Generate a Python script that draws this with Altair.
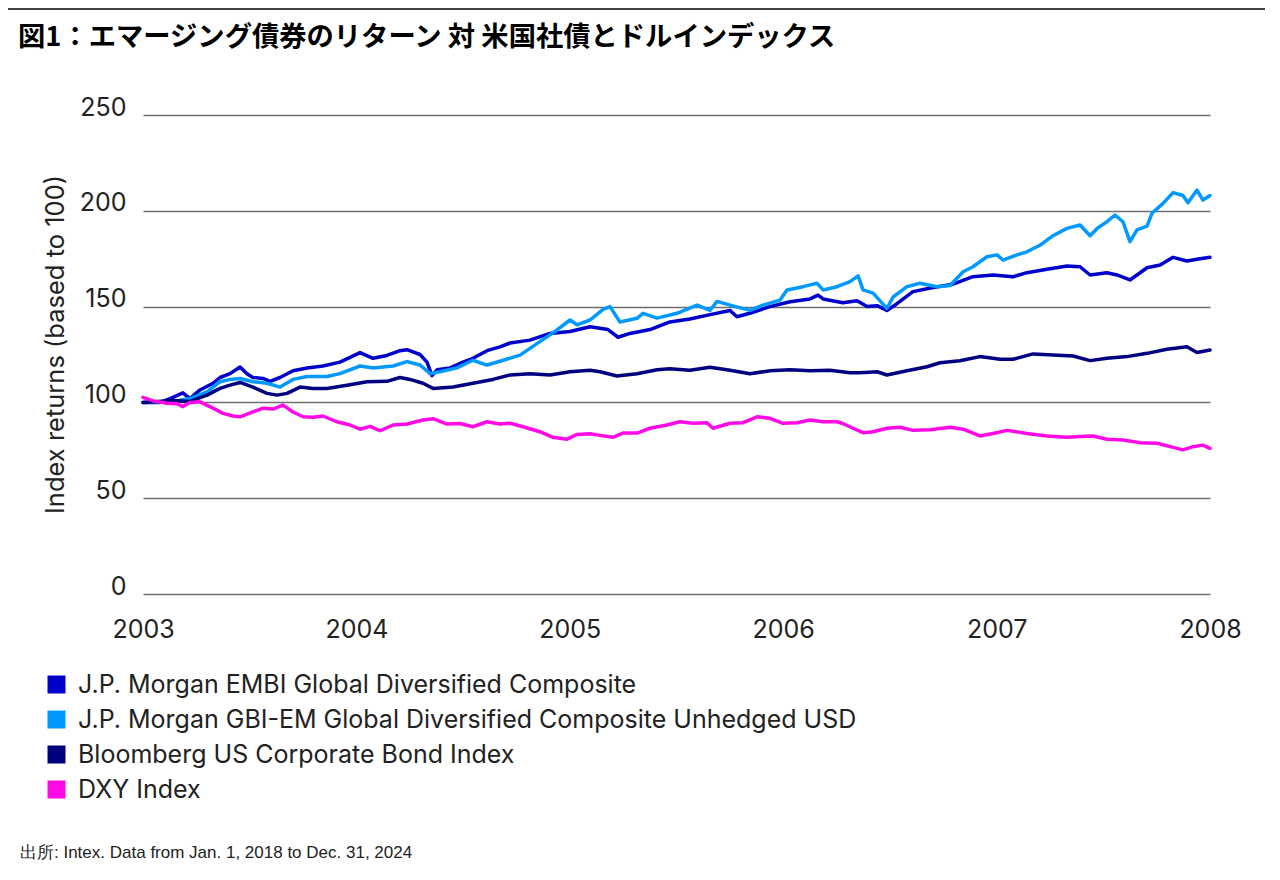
import altair as alt
import pandas as pd

title_text = "図1：エマージング債券のリターン 対 米国社債とドルインデックス"
source_text = "出所: Intex. Data from Jan. 1, 2018 to Dec. 31, 2024"
y_title = "Index returns (based to 100)"

series_names = [
    "J.P. Morgan EMBI Global Diversified Composite",
    "J.P. Morgan GBI-EM Global Diversified Composite Unhedged USD",
    "Bloomberg US Corporate Bond Index",
    "DXY Index",
]
series_colors = ["#0000CC", "#0099FF", "#000080", "#FF0AE6"]

x_ticks = [2003, 2004, 2005, 2006, 2007, 2008]
y_ticks = [0, 50, 100, 150, 200, 250]

# time given as years elapsed since start of 2003
embi_t = [0.000, 0.080, 0.127, 0.187, 0.220, 0.267, 0.328, 0.361, 0.408, 0.455,
          0.487, 0.515, 0.562, 0.595, 0.642, 0.703, 0.769, 0.843, 0.923, 1.017,
          1.078, 1.143, 1.204, 1.237, 1.298, 1.331, 1.354, 1.378, 1.439, 1.500,
          1.546, 1.612, 1.673, 1.720, 1.813, 1.907, 2.001, 2.095, 2.179, 2.226,
          2.282, 2.376, 2.469, 2.563, 2.657, 2.751, 2.783, 2.844, 2.938, 3.032,
          3.126, 3.163, 3.187, 3.280, 3.346, 3.393, 3.440, 3.486, 3.533, 3.608,
          3.702, 3.796, 3.889, 3.983, 4.077, 4.142, 4.236, 4.330, 4.391, 4.438,
          4.517, 4.564, 4.625, 4.705, 4.766, 4.827, 4.892, 4.953, 5.000]
embi_v = [100, 100, 102, 105, 102, 106.5, 110, 113, 115, 118.5,
          115, 113, 112.5, 111, 113, 116.5, 118, 119, 121, 126,
          123, 124.5, 127, 127.5, 125, 121, 114, 117, 118, 121,
          123, 127, 129, 131, 132.5, 136, 137, 139.5, 138, 134,
          136, 138, 142, 143.5, 145.8, 148, 144.7, 146.5, 150, 152.5,
          154, 156, 154, 152, 153, 150, 150.5, 148, 151.5, 157.8,
          160, 161.7, 165.6, 166.5, 165.6, 167.7, 169.5, 171.2, 170.8, 166.5,
          167.7, 166.5, 163.9, 170.3, 171.7, 175.7, 173.8, 175, 175.7]

gbi_t = [0.000, 0.141, 0.220, 0.300, 0.361, 0.408, 0.455, 0.515, 0.581, 0.642,
         0.703, 0.769, 0.862, 0.923, 1.017, 1.078, 1.172, 1.237, 1.298, 1.345,
         1.392, 1.471, 1.546, 1.612, 1.673, 1.767, 1.860, 1.940, 2.001, 2.034,
         2.095, 2.156, 2.188, 2.235, 2.315, 2.343, 2.409, 2.502, 2.596, 2.657,
         2.690, 2.751, 2.844, 2.905, 2.985, 3.018, 3.093, 3.158, 3.187, 3.252,
         3.313, 3.351, 3.374, 3.421, 3.486, 3.515, 3.580, 3.641, 3.721, 3.782,
         3.843, 3.889, 3.955, 4.002, 4.030, 4.096, 4.142, 4.203, 4.264, 4.330,
         4.391, 4.438, 4.471, 4.517, 4.555, 4.592, 4.625, 4.658, 4.705, 4.728,
         4.780, 4.827, 4.873, 4.897, 4.939, 4.967, 5.000]
gbi_v = [100, 100.5, 102, 105.5, 110.8, 112, 112.5, 110.8, 110, 108,
         112, 113.5, 113.5, 115, 119, 118, 119, 121.3, 119.5, 115,
         116, 118, 122, 119.5, 121.5, 124.7, 131.7, 137.8, 143, 140.5,
         143, 148.6, 150, 142, 143.9, 146.5, 144, 146.5, 150.8, 148,
         152.7, 150.8, 148, 150.8, 153.4, 158.7, 160.4, 162.2, 158.7, 160.4,
         163, 166, 158.7, 157, 149.1, 155, 160.4, 162.2, 160.4, 161,
         168.2, 170.8, 176, 177, 174.3, 177, 178.6, 182, 187, 190.8,
         192.6, 187, 190.8, 194.3, 197.8, 194.3, 183.9, 190, 192, 198.7,
         203.9, 209.5, 208, 204.2, 210.8, 205.6, 208]

corp_t = [0.000, 0.141, 0.220, 0.300, 0.361, 0.408, 0.455, 0.515, 0.581, 0.628,
          0.675, 0.736, 0.797, 0.862, 0.956, 1.050, 1.143, 1.204, 1.251, 1.312,
          1.359, 1.453, 1.546, 1.640, 1.720, 1.813, 1.907, 2.001, 2.095, 2.142,
          2.221, 2.315, 2.409, 2.469, 2.563, 2.657, 2.751, 2.844, 2.938, 3.032,
          3.126, 3.219, 3.313, 3.360, 3.440, 3.486, 3.580, 3.674, 3.735, 3.828,
          3.922, 4.016, 4.077, 4.171, 4.264, 4.358, 4.438, 4.517, 4.611, 4.705,
          4.798, 4.892, 4.939, 5.000]
corp_v = [100, 101, 100.5, 103.8, 107.3, 109, 110.4, 108, 104.7, 103.8,
          104.7, 108, 107.3, 107.3, 109, 110.8, 111, 113, 112, 110,
          107.3, 108, 110, 112, 114.3, 115, 114.3, 116, 116.8, 116,
          113.8, 115, 117, 117.5, 116.8, 118.3, 116.8, 115, 116.5, 117,
          116.5, 116.8, 115.5, 115.5, 116, 114.3, 116.5, 118.6, 120.7, 121.7,
          123.9, 122.5, 122.5, 125.3, 124.7, 124.2, 121.8, 123, 123.9, 125.6,
          127.7, 129, 126, 127.3]

dxy_t = [0.000, 0.047, 0.112, 0.159, 0.187, 0.220, 0.267, 0.328, 0.375, 0.422,
         0.455, 0.515, 0.562, 0.609, 0.656, 0.703, 0.750, 0.797, 0.843, 0.909,
         0.970, 1.017, 1.064, 1.111, 1.172, 1.237, 1.312, 1.359, 1.425, 1.485,
         1.546, 1.612, 1.673, 1.720, 1.781, 1.860, 1.921, 1.987, 2.034, 2.095,
         2.142, 2.202, 2.249, 2.315, 2.376, 2.455, 2.516, 2.577, 2.643, 2.671,
         2.751, 2.812, 2.877, 2.938, 2.999, 3.065, 3.126, 3.187, 3.252, 3.280,
         3.327, 3.374, 3.421, 3.486, 3.547, 3.608, 3.688, 3.782, 3.843, 3.922,
         3.983, 4.049, 4.142, 4.236, 4.330, 4.391, 4.452, 4.517, 4.592, 4.672,
         4.752, 4.813, 4.873, 4.920, 4.967, 5.000]
dxy_v = [102.6, 100.8, 99.6, 99.3, 97.8, 100, 100.3, 97, 94.3, 92.9,
         92.5, 95, 97, 96.5, 98.6, 95, 92.5, 92.2, 92.9, 89.9,
         88.2, 86, 87.5, 85.2, 88.2, 88.7, 90.8, 91.5, 88.7, 89,
         87.3, 89.9, 88.7, 89.1, 87.3, 84.7, 81.8, 80.8, 83.3, 83.6,
         82.8, 81.8, 84, 84, 86.5, 88.2, 89.9, 89.1, 89.4, 86.5,
         89.1, 89.4, 92.5, 91.7, 89.1, 89.4, 90.8, 89.9, 89.9, 89,
         86.5, 84.2, 84.7, 86.5, 87, 85.4, 85.7, 87, 86, 82.5,
         83.8, 85.4, 83.8, 82.5, 81.8, 82.2, 82.5, 80.8, 80.4, 79,
         78.7, 76.9, 75.2, 76.9, 77.7, 76]

rows = []
for k, (name, ts, vs) in enumerate(zip(series_names,
                                       [embi_t, gbi_t, corp_t, dxy_t],
                                       [embi_v, gbi_v, corp_v, dxy_v])):
    for t, v in zip(ts, vs):
        rows.append({"series": name, "year": 2003 + t, "value": v, "k": k})
df = pd.DataFrame(rows)

FONT = "Inter"
color_scale = alt.Scale(domain=series_names, range=series_colors)

lines = alt.Chart(df).mark_line(strokeWidth=3.5, strokeJoin="round", strokeCap="round").encode(
    x=alt.X("year:Q",
            scale=alt.Scale(domain=[2003, 2008], nice=False, zero=False),
            axis=alt.Axis(values=x_ticks, format="d", title=None, grid=False, ticks=False,
                          domain=False, labelFontSize=25, labelPadding=23, labelColor="#222",
                          labelFont=FONT, labelFlush=False)),
    y=alt.Y("value:Q",
            scale=alt.Scale(domain=[0, 250], nice=False),
            axis=alt.Axis(values=y_ticks, title=y_title, grid=True, gridColor="#6e6e6e",
                          gridWidth=1.5, ticks=False, domain=False, labelFontSize=25,
                          labelFont=FONT, labelColor="#222", labelPadding=17, labelOffset=-8,
                          titleFont=FONT, titleFontSize=25.5, titleFontWeight="normal",
                          titleColor="#222", titleX=-88, titleY=229, titleAlign="center",
                          titleBaseline="middle", titleAngle=270)),
    color=alt.Color("series:N", scale=color_scale, legend=None),
    order=alt.Order("k:Q"),
    detail="series:N",
)

legend_df = pd.DataFrame({"series": series_names})
legend_layer = alt.Chart(legend_df).mark_square(size=0, filled=True, opacity=1).encode(
    x=alt.value(0), y=alt.value(0),
    color=alt.Color("series:N", scale=color_scale,
                    legend=alt.Legend(title=None, orient="none", legendX=-99, legendY=557,
                                      direction="vertical", symbolType="square",
                                      symbolSize=324, symbolStrokeWidth=0, symbolOpacity=1,
                                      labelFontSize=25, labelFont=FONT, labelColor="#222",
                                      rowPadding=9, labelOffset=9, padding=0, labelLimit=0)),
)

title_layer = alt.Chart(pd.DataFrame({"t": [title_text]})).mark_text(
    align="left", baseline="middle", font="Noto Sans CJK JP", fontSize=27.3,
    fontWeight="bold", color="#000"
).encode(text="t:N", x=alt.value(-125), y=alt.value(-77))

source_layer = alt.Chart(pd.DataFrame({"t": [source_text]})).mark_text(
    align="left", baseline="middle", font="Liberation Sans", fontSize=17, color="#222"
).encode(text="t:N", x=alt.value(-123), y=alt.value(738))

top_rule = alt.Chart(pd.DataFrame({"a": [0]})).mark_rule(color="#000", strokeWidth=1.5).encode(
    x=alt.value(-135), x2=alt.value(1122), y=alt.value(-106)
)

chart = alt.layer(lines, legend_layer, title_layer, source_layer, top_rule).resolve_scale(
    color="independent"
).properties(
    width=1067, height=479,
    autosize=alt.AutoSizeParams(type="none"),
    padding={"left": 135, "top": 107, "right": 55, "bottom": 276},
    background="white",
).configure_view(stroke=None)

chart.save("out.html", embed_options={"renderer": "svg", "actions": False})
